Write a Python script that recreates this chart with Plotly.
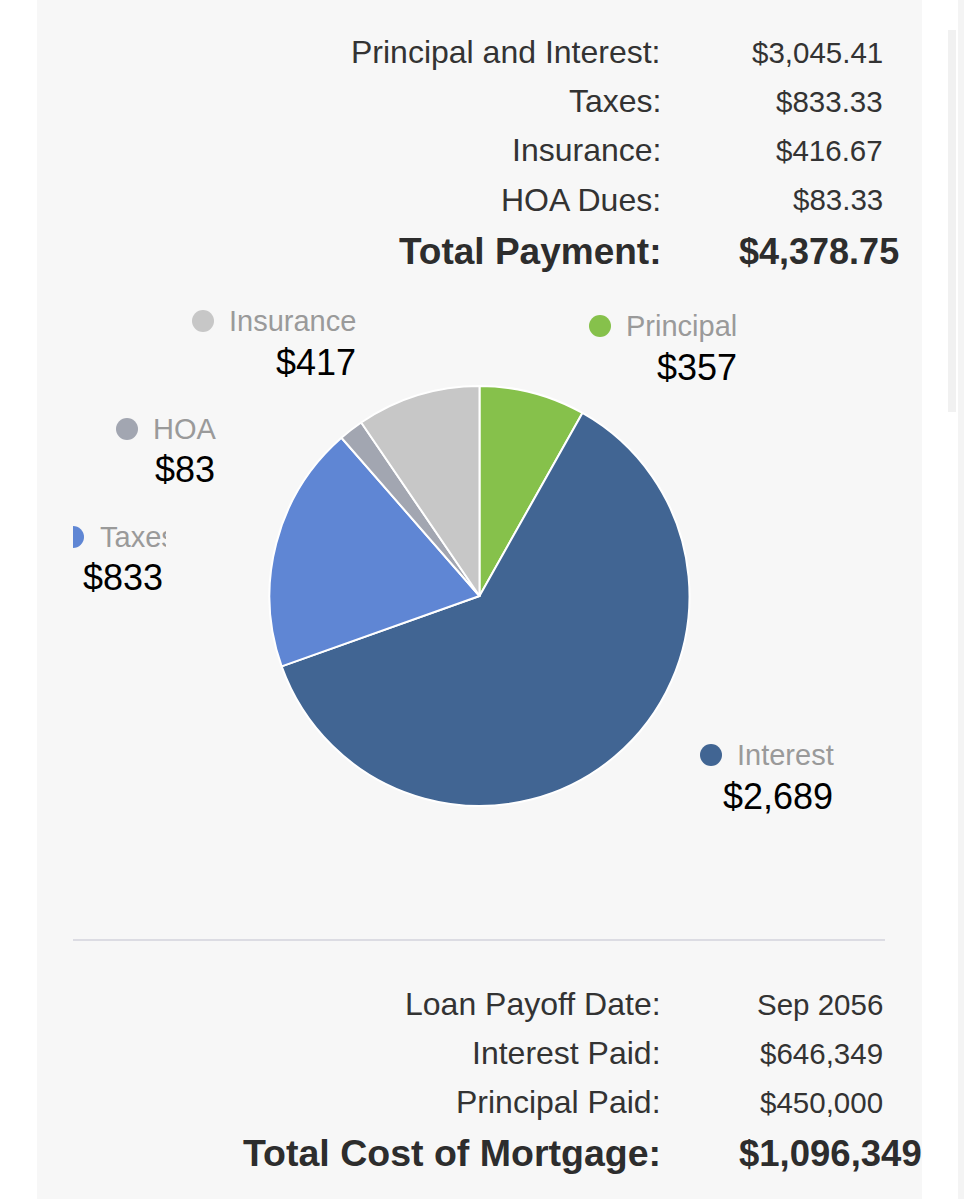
import plotly.graph_objects as go

W, H = 964, 1199

# ---- data ----
slice_labels = ["Principal", "Interest", "Taxes", "HOA", "Insurance"]
slice_values = [357, 2689, 833, 83, 417]
slice_value_text = ["$357", "$2,689", "$833", "$83", "$417"]
slice_colors = ["#86c14b", "#416593", "#5f86d4", "#a2a6b1", "#c7c7c7"]

top_labels = ["Principal and Interest:", "Taxes:", "Insurance:", "HOA Dues:"]
top_values = ["$3,045.41", "$833.33", "$416.67", "$83.33"]
top_total_label = "Total Payment:"
top_total_value = "$4,378.75"

bottom_labels = ["Loan Payoff Date:", "Interest Paid:", "Principal Paid:"]
bottom_values = ["Sep 2056", "$646,349", "$450,000"]
bottom_total_label = "Total Cost of Mortgage:"
bottom_total_value = "$1,096,349"


def px(x):
    return x / W


def py(y):
    return 1 - y / H


TABLE_FONT = "Liberation Sans, Arial, sans-serif"
PIE_FONT = "Liberation Sans, Arial, sans-serif"
TXT = "#333333"

# pie geometry (pixels)
cx, cy, r = 479.5, 596, 210

fig = go.Figure()
fig.add_trace(go.Pie(
    labels=slice_labels,
    values=slice_values,
    marker=dict(colors=slice_colors, line=dict(color="white", width=2)),
    sort=False,
    direction="clockwise",
    rotation=0,
    textinfo="none",
    hoverinfo="label+value",
    showlegend=False,
    domain=dict(x=[px(cx - r), px(cx + r)], y=[py(cy + r), py(cy - r)]),
))

shapes = []
# page panel
shapes.append(dict(type="rect", xref="paper", yref="paper", x0=px(37), x1=px(922), y0=0, y1=1,
                   fillcolor="#f7f7f7", line=dict(width=0), layer="below"))
# scrollbar / right strip
shapes.append(dict(type="rect", xref="paper", yref="paper", x0=px(948), x1=px(956), y0=py(412), y1=py(30),
                   fillcolor="#f1f1f1", line=dict(width=0), layer="below"))
shapes.append(dict(type="rect", xref="paper", yref="paper", x0=px(958), x1=px(964), y0=0, y1=1,
                   fillcolor="#f4f4f4", line=dict(width=0), layer="below"))
# separator line
shapes.append(dict(type="line", xref="paper", yref="paper", x0=px(73), x1=px(885), y0=py(940), y1=py(940),
                   line=dict(color="#dcdce3", width=2)))

annotations = []


def ann(text, x, y, anchor, size, color, family, **kw):
    d = dict(text=text, x=px(x), y=py(y), xref="paper", yref="paper", xanchor=anchor, yanchor="middle",
             showarrow=False, font=dict(size=size, color=color, family=family))
    d.update(kw)
    annotations.append(d)


# top table
top_rows_y = [52, 101, 150, 200]
for lab, val, yy in zip(top_labels, top_values, top_rows_y):
    ann(lab, 663, yy, "right", 32, TXT, TABLE_FONT)
    ann(val, 885, yy, "right", 29.5, TXT, TABLE_FONT)
ann("<b>" + top_total_label + "</b>", 663, 251, "right", 37, "#2d2d2d", TABLE_FONT)
ann("<b>" + top_total_value + "</b>", 737, 251, "left", 36, "#2d2d2d", TABLE_FONT)

# bottom table
bot_rows_y = [1004, 1053, 1102]
for lab, val, yy in zip(bottom_labels, bottom_values, bot_rows_y):
    ann(lab, 663, yy, "right", 32, TXT, TABLE_FONT)
    ann(val, 885, yy, "right", 29.5, TXT, TABLE_FONT)
ann("<b>" + bottom_total_label + "</b>", 663, 1153, "right", 37.5, "#2d2d2d", TABLE_FONT)
ann("<b>" + bottom_total_value + "</b>", 737, 1153, "left", 36.5, "#2d2d2d", TABLE_FONT)

# pie legend labels: (dot x, dot y, name left x, value right x, value y)
label_pos = {
    "Principal": (600, 326, 626, 737, 367),
    "Interest": (711, 755, 737, 833, 796),
    "Taxes": (73, 537, 100, 163, 577),
    "HOA": (127, 429, 153, 215, 470),
    "Insurance": (203, 321, 229, 356, 362),
}
dot_r = 11
for lab, val_txt, col in zip(slice_labels, slice_value_text, slice_colors):
    dx, dy, nx, vx, vy = label_pos[lab]
    shapes.append(dict(type="circle", xref="paper", yref="paper",
                       x0=px(dx - dot_r), x1=px(dx + dot_r), y0=py(dy + dot_r), y1=py(dy - dot_r),
                       fillcolor=col, line=dict(width=0), layer="above"))
    if lab == "Taxes":
        ann(lab, nx, dy, "left", 29, "#9a9a9a", PIE_FONT, width=66, align="left", borderpad=0, borderwidth=0)
    else:
        ann(lab, nx, dy, "left", 29, "#9a9a9a", PIE_FONT, borderpad=0, borderwidth=0)
    ann(val_txt, vx, vy, "right", 36, "#000000", PIE_FONT, borderpad=0, borderwidth=0)

# clip the left half of the Taxes dot
shapes.append(dict(type="rect", xref="paper", yref="paper", x0=px(55), x1=px(73), y0=py(552), y1=py(522),
                   fillcolor="#f7f7f7", line=dict(width=0), layer="above"))

fig.update_layout(
    width=W, height=H, autosize=False,
    margin=dict(l=0, r=0, t=0, b=0, pad=0),
    paper_bgcolor="white", plot_bgcolor="white",
    shapes=shapes, annotations=annotations,
    showlegend=False,
)

fig.write_html("out.html", config={"displayModeBar": False},
               post_script="document.body.style.margin='0';")
